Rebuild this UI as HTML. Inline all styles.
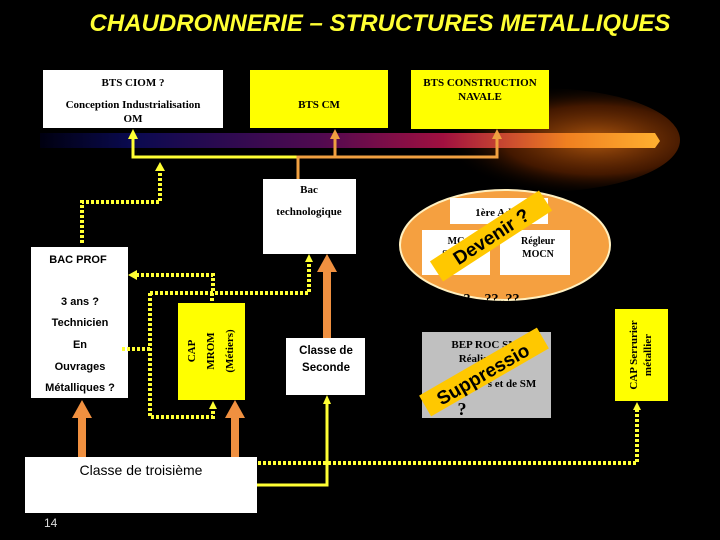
<!DOCTYPE html>
<html><head><meta charset="utf-8"><style>
html,body{margin:0;padding:0;background:#000;}
svg{display:block;}
.s{font-family:"Liberation Serif",serif;font-weight:bold;fill:#000;}
.a{font-family:"Liberation Sans",sans-serif;font-weight:bold;fill:#000;}
</style></head><body>
<svg width="720" height="540" viewBox="0 0 720 540" xmlns="http://www.w3.org/2000/svg">
<defs>
<linearGradient id="band" x1="0" x2="1" y1="0" y2="0">
<stop offset="0" stop-color="#000010"/><stop offset="0.15" stop-color="#0a0a50"/><stop offset="0.45" stop-color="#500a50"/><stop offset="0.65" stop-color="#a01040"/><stop offset="0.85" stop-color="#f08020"/><stop offset="1" stop-color="#ffb030"/>
</linearGradient>
<radialGradient id="glow" cx="0.7" cy="0.5" r="0.55">
<stop offset="0" stop-color="#c06010" stop-opacity="0.9"/><stop offset="0.6" stop-color="#702800" stop-opacity="0.6"/><stop offset="1" stop-color="#000" stop-opacity="0"/>
</radialGradient>
</defs>
<rect width="720" height="540" fill="#000"/>
<ellipse cx="540" cy="140" rx="140" ry="52" fill="url(#glow)"/>
<path d="M40 133 L655 133 L660 141 L655 148 L40 148 Z" fill="url(#band)"/>

<text x="380" y="31" text-anchor="middle" font-family="Liberation Sans,sans-serif" font-weight="bold" font-style="italic" font-size="24" fill="#ffff33">CHAUDRONNERIE – STRUCTURES METALLIQUES</text>

<rect x="43" y="70" width="180" height="58" fill="#fff"/>
<text class="s" x="133" y="86" text-anchor="middle" font-size="11">BTS CIOM ?</text>
<text class="s" x="133" y="108" text-anchor="middle" font-size="11">Conception Industrialisation</text>
<text class="s" x="133" y="122" text-anchor="middle" font-size="11">OM</text>
<rect x="250" y="70" width="138" height="58" fill="#ffff00"/>
<text class="s" x="319" y="108" text-anchor="middle" font-size="11">BTS CM</text>
<rect x="411" y="70" width="138" height="59" fill="#ffff00"/>
<text class="s" x="480" y="86" text-anchor="middle" font-size="11">BTS CONSTRUCTION</text>
<text class="s" x="480" y="100" text-anchor="middle" font-size="11">NAVALE</text>

<polyline points="133,138 133,157 298,157" fill="none" stroke="#ffff33" stroke-width="3"/>
<polygon points="133,129 128,139 138,139" fill="#ffff33"/>
<polyline points="298,180 298,157 497,157 497,138" fill="none" stroke="#f0a040" stroke-width="3"/>
<line x1="335" y1="157" x2="335" y2="138" stroke="#f0a040" stroke-width="3"/>
<polygon points="335,129 330,139 340,139" fill="#f0a040"/>
<polygon points="497,129 492,139 502,139" fill="#f0a040"/>

<rect x="263" y="179" width="93" height="75" fill="#fff"/>
<text class="s" x="309" y="193" text-anchor="middle" font-size="11">Bac</text>
<text class="s" x="309" y="215" text-anchor="middle" font-size="11">technologique</text>

<rect x="31" y="247" width="97" height="151" fill="#fff"/>
<text class="a" x="78" y="263" text-anchor="middle" font-size="11">BAC PROF</text>
<text class="a" x="80" y="305" text-anchor="middle" font-size="11">3 ans ?</text>
<text class="a" x="80" y="326" text-anchor="middle" font-size="11">Technicien</text>
<text class="a" x="80" y="348" text-anchor="middle" font-size="11">En</text>
<text class="a" x="80" y="370" text-anchor="middle" font-size="11">Ouvrages</text>
<text class="a" x="80" y="391" text-anchor="middle" font-size="11">Métalliques ?</text>

<g fill="none" stroke="#ffff33" stroke-width="4" stroke-dasharray="3,2">
<polyline points="82,243 82,202 160,202 160,168"/>
<polyline points="136,275 213,275 213,293"/>
<polyline points="150,293 309,293 309,262"/>
<polyline points="122,349 150,349"/>
<polyline points="150,293 150,417 213,417 213,410"/>
<polyline points="212,293 212,303"/>
<polyline points="258,463 637,463 637,410"/>
</g>
<polygon points="160,162 155,171 165,171" fill="#ffff33"/>
<polygon points="128,275 137,270 137,280" fill="#ffff33"/>
<polygon points="309,254 305,262 313,262" fill="#ffff33"/>
<polygon points="213,401 209,409 217,409" fill="#ffff33"/>
<polygon points="637,402 633,410 641,410" fill="#ffff33"/>

<rect x="178" y="303" width="67" height="97" fill="#ffff00"/>
<text transform="translate(195,351) rotate(-90)" text-anchor="middle" class="s" font-size="11">CAP</text>
<text transform="translate(214,351) rotate(-90)" text-anchor="middle" class="s" font-size="11">MROM</text>
<text transform="translate(233,351) rotate(-90)" text-anchor="middle" class="s" font-size="11">(Métiers)</text>

<rect x="78" y="416" width="8" height="41" fill="#f09040"/>
<polygon points="82,400 72,418 92,418" fill="#f09040"/>
<rect x="231" y="416" width="8" height="41" fill="#f09040"/>
<polygon points="235,400 225,418 245,418" fill="#f09040"/>
<rect x="323" y="270" width="8" height="68" fill="#f09040"/>
<polygon points="327,254 317,272 337,272" fill="#f09040"/>

<rect x="286" y="338" width="79" height="57" fill="#fff"/>
<text class="a" x="326" y="354" text-anchor="middle" font-size="11.5">Classe de</text>
<text class="a" x="326" y="371" text-anchor="middle" font-size="11.5">Seconde</text>

<rect x="25" y="457" width="232" height="56" fill="#fff"/>
<text x="141" y="475" text-anchor="middle" font-family="Liberation Sans,sans-serif" font-size="14" fill="#000">Classe de troisième</text>
<polyline points="257,485 327,485 327,402" fill="none" stroke="#ffff33" stroke-width="3"/>
<polygon points="327,395 323,404 331,404" fill="#ffff33"/>
<text x="44" y="527" font-family="Liberation Sans,sans-serif" font-size="12" fill="#ddd">14</text>

<ellipse cx="505" cy="245" rx="105" ry="55" fill="#f5a040" stroke="#fff0c0" stroke-width="2"/>
<rect x="450" y="198" width="98" height="26" fill="#fff"/>
<text class="s" x="499" y="216" text-anchor="middle" font-size="11">1ère Adap</text>
<rect x="422" y="230" width="68" height="45" fill="#fff"/>
<text class="s" x="456" y="244" text-anchor="middle" font-size="10">MC</text>
<text class="s" x="456" y="257" text-anchor="middle" font-size="10">SOUD</text>
<rect x="500" y="230" width="70" height="45" fill="#fff"/>
<text class="s" x="538" y="244" text-anchor="middle" font-size="10">Régleur</text>
<text class="s" x="538" y="257" text-anchor="middle" font-size="10">MOCN</text>
<text class="s" x="495" y="303" text-anchor="middle" font-size="14">?…??..??..</text>
<g transform="translate(491,236) rotate(-33)">
<rect x="-65" y="-12" width="130" height="24" fill="#ffc800"/>
<text class="a" x="0" y="7" text-anchor="middle" font-size="19">Devenir ?</text>
</g>

<rect x="422" y="332" width="129" height="86" fill="#c0c0c0"/>
<text class="s" x="485" y="348" text-anchor="middle" font-size="11">BEP ROC SM</text>
<text class="s" x="485" y="362" text-anchor="middle" font-size="11">Réalisation</text>
<text class="s" x="512" y="387" text-anchor="middle" font-size="11">s et de SM</text>
<g transform="translate(484,372) rotate(-30)">
<rect x="-68" y="-12" width="136" height="24" fill="#ffc800"/>
<text class="a" x="-2" y="8" text-anchor="middle" font-size="19">Suppressio</text>
</g>
<text class="s" x="462" y="415" text-anchor="middle" font-size="18">?</text>

<rect x="615" y="309" width="53" height="92" fill="#ffff00"/>
<text class="s" transform="translate(637,355) rotate(-90)" text-anchor="middle" font-size="11">CAP Serrurier</text>
<text class="s" transform="translate(651,355) rotate(-90)" text-anchor="middle" font-size="11">métallier</text>
</svg>
</body></html>
